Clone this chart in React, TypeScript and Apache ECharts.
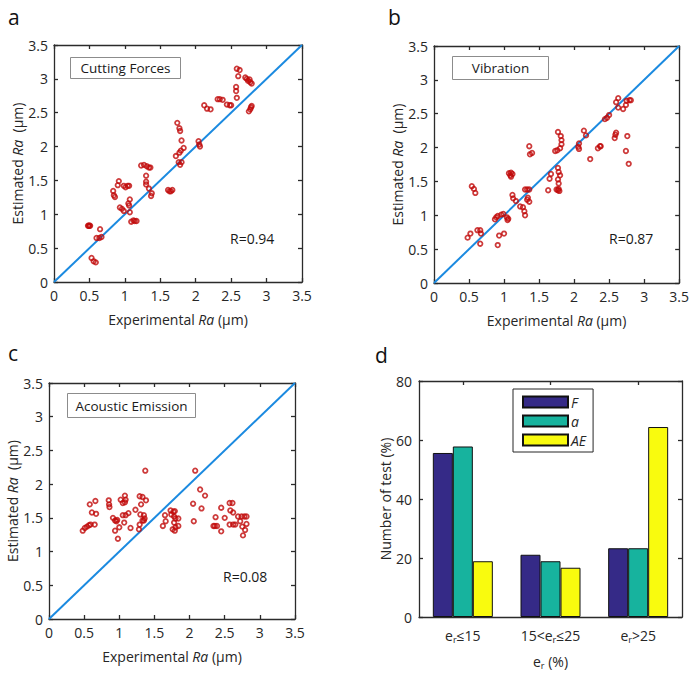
import React, { useEffect, useRef } from "react";
import * as echarts from "echarts";

// ---------- data ----------
const ticksRa = [0, 0.5, 1, 1.5, 2, 2.5, 3, 3.5];

const pointsForces: [number, number][] = [
  [0.48, 0.83], [0.49, 0.83], [0.5, 0.83], [0.51, 0.83],
  [0.53, 0.355], [0.56, 0.305], [0.59, 0.29],
  [0.65, 0.78], [0.6, 0.65], [0.64, 0.65], [0.67, 0.665],
  [0.835, 1.345], [0.845, 1.28], [0.86, 1.256],
  [0.915, 1.49], [0.9, 1.43],
  [0.93, 1.1], [0.96, 1.08], [0.985, 1.05],
  [0.985, 1.42], [1.01, 1.4], [1.04, 1.42], [1.06, 1.42],
  [1.07, 1.22], [1.05, 1.16], [1.06, 1.13], [1.07, 1.03],
  [1.09, 0.89], [1.12, 0.91], [1.14, 0.9], [1.165, 0.9],
  [1.23, 1.72], [1.27, 1.73], [1.31, 1.71], [1.34, 1.69], [1.36, 1.69],
  [1.3, 1.57], [1.3, 1.48], [1.3, 1.44],
  [1.34, 1.38], [1.38, 1.31], [1.37, 1.27],
  [1.61, 1.36], [1.63, 1.34], [1.65, 1.34], [1.67, 1.36],
  [1.74, 2.35], [1.77, 2.27], [1.78, 2.23], [1.8, 2.09],
  [1.72, 1.86], [1.77, 1.91], [1.79, 1.94], [1.83, 1.98],
  [1.76, 1.77], [1.78, 1.73], [1.8, 1.77],
  [2.04, 2.08], [2.05, 2.03], [2.06, 2.0],
  [2.12, 2.61], [2.16, 2.56], [2.21, 2.55],
  [2.31, 2.7], [2.34, 2.7], [2.38, 2.69],
  [2.44, 2.62], [2.48, 2.61], [2.5, 2.61],
  [2.58, 3.15], [2.62, 3.13], [2.6, 3.04],
  [2.57, 2.88], [2.57, 2.82], [2.58, 2.72],
  [2.7, 3.02], [2.72, 3.0], [2.74, 2.97], [2.76, 2.99], [2.77, 2.95], [2.79, 2.93],
  [2.75, 2.52], [2.77, 2.55], [2.78, 2.58], [2.79, 2.6],
];

const pointsVibration: [number, number][] = [
  [0.48, 0.67], [0.52, 0.73], [0.54, 1.43], [0.57, 1.39], [0.59, 1.33],
  [0.62, 0.78], [0.66, 0.78], [0.67, 0.73], [0.66, 0.58],
  [0.87, 0.94], [0.89, 0.97], [0.91, 0.99], [0.91, 0.56], [0.93, 0.7], [1.0, 0.73],
  [0.96, 1.01], [0.99, 1.02], [1.04, 0.97], [1.06, 0.95], [1.05, 0.93],
  [1.07, 1.62], [1.1, 1.63], [1.12, 1.61], [1.1, 1.57], [1.09, 1.59],
  [1.12, 1.3], [1.13, 1.25], [1.17, 1.21],
  [1.23, 1.13], [1.27, 1.12], [1.29, 1.06], [1.3, 1.0],
  [1.3, 1.38], [1.33, 1.38], [1.36, 1.38],
  [1.33, 1.23], [1.36, 1.2], [1.34, 1.26],
  [1.36, 2.02], [1.37, 1.9], [1.4, 1.92],
  [1.63, 1.37], [1.65, 1.54], [1.67, 1.61],
  [1.73, 1.95], [1.76, 1.96],
  [1.77, 2.23], [1.81, 2.17], [1.82, 2.11], [1.82, 2.05], [1.8, 1.99],
  [1.75, 1.38], [1.78, 1.39], [1.79, 1.36], [1.77, 1.37],
  [1.77, 1.7], [1.78, 1.64], [1.8, 1.59], [1.77, 1.53], [1.78, 1.47],
  [2.07, 2.06], [2.06, 2.01], [2.07, 1.98],
  [2.14, 2.25], [2.17, 2.18], [2.23, 1.83],
  [2.34, 1.99], [2.37, 2.02], [2.38, 2.02],
  [2.44, 2.42], [2.47, 2.44], [2.5, 2.48],
  [2.58, 2.14], [2.59, 2.19], [2.6, 2.22],
  [2.6, 2.67], [2.63, 2.73], [2.63, 2.59], [2.7, 2.57], [2.74, 2.63], [2.75, 2.69], [2.79, 2.7], [2.81, 2.7],
  [2.76, 2.17], [2.74, 1.95], [2.78, 1.76],
];

const pointsAcoustic: [number, number][] = [
  [0.48, 1.31], [0.51, 1.35], [0.54, 1.37], [0.57, 1.39], [0.59, 1.4],
  [0.58, 1.7], [0.61, 1.58], [0.67, 1.56], [0.66, 1.75], [0.65, 1.4],
  [0.85, 1.76], [0.855, 1.7], [0.86, 1.66],
  [0.91, 1.5], [0.94, 1.46], [0.96, 1.45], [0.97, 1.47],
  [0.94, 1.31], [0.98, 1.19], [1.0, 1.36],
  [1.02, 1.77], [1.05, 1.72], [1.08, 1.73], [1.08, 1.83], [1.09, 1.77],
  [1.05, 1.54], [1.09, 1.54], [1.13, 1.57], [1.07, 1.43], [1.16, 1.35],
  [1.23, 1.62], [1.29, 1.82], [1.33, 1.81], [1.38, 1.76], [1.37, 2.2], [1.31, 1.7],
  [1.3, 1.55], [1.35, 1.54], [1.36, 1.49], [1.35, 1.46], [1.33, 1.46],
  [1.29, 1.4], [1.28, 1.33],
  [1.62, 1.38], [1.66, 1.45], [1.65, 1.54],
  [1.73, 1.61], [1.77, 1.59], [1.78, 1.52], [1.8, 1.49], [1.84, 1.49], [1.78, 1.43],
  [1.8, 1.36], [1.76, 1.33], [1.79, 1.31], [1.84, 1.38], [1.74, 1.55], [1.79, 1.6],
  [2.08, 2.2], [2.05, 1.71], [2.06, 1.45],
  [2.15, 1.92], [2.22, 1.83], [2.17, 1.64],
  [2.34, 1.38], [2.36, 1.38], [2.39, 1.38],
  [2.37, 1.51], [2.45, 1.3], [2.45, 1.65], [2.5, 1.5],
  [2.57, 1.72], [2.61, 1.72], [2.58, 1.61], [2.62, 1.58],
  [2.57, 1.4], [2.62, 1.4], [2.65, 1.4],
  [2.69, 1.52], [2.74, 1.52], [2.78, 1.52], [2.81, 1.52],
  [2.72, 1.45], [2.75, 1.37], [2.79, 1.32], [2.76, 1.24], [2.81, 1.41],
];

const diagonal: [number, number][] = [[0, 0], [3.5, 3.5]];

const errorClasses = ["e_r≤15", "15<e_r≤25", "e_r>25"];
const pctForces = [55.6, 21.1, 23.3];
const pctVibration = [57.8, 18.9, 23.3];
const pctAcoustic = [18.9, 16.7, 64.4];
const pctTicks = [0, 20, 40, 60, 80];

// ---------- styles ----------
const FONT = "'Open Sans', 'Noto Sans', sans-serif";
const AXIS_COLOR = "#2b2b2b";
const TEXT_COLOR = "#262626";
const RED = "#c00a0a";
const BLUE = "#1b8ae0";
const FS = 14;

const grids = [
  { left: 54, top: 45, width: 248, height: 237 },
  { left: 434, top: 46, width: 246, height: 237 },
  { left: 49, top: 383, width: 246, height: 236 },
  { left: 419, top: 381, width: 263, height: 236 },
];

const lineStyle = { color: AXIS_COLOR, width: 1.3 };

const nameRich = {
  n: { fontFamily: FONT, fontSize: FS, color: TEXT_COLOR },
  i: { fontFamily: FONT, fontSize: FS, color: TEXT_COLOR, fontStyle: "italic" },
  s: { fontFamily: FONT, fontSize: 9, color: TEXT_COLOR, padding: [8, 0, 0, 0] },
};

function raAxes(g: number) {
  const base = {
    type: "value",
    gridIndex: g,
    min: ticksRa[0],
    max: ticksRa[ticksRa.length - 1],
    interval: 0.5,
    splitLine: { show: false },
    axisLine: { show: true, onZero: false, lineStyle },
    axisTick: { show: true, inside: true, length: 4, lineStyle },
  };
  const label = { show: true, fontFamily: FONT, fontSize: FS, color: TEXT_COLOR, margin: 6 };
  const x = [
    {
      ...base,
      position: "bottom",
      axisLabel: label,
      name: "{n|Experimental }{i|Ra}{n| (µm)}",
      nameLocation: "middle",
      nameGap: 30,
      nameTextStyle: { rich: nameRich },
    },
    { ...base, position: "top", axisLabel: { show: false } },
  ];
  const y = [
    {
      ...base,
      position: "left",
      axisLabel: label,
      name: "{n|Estimated }{i|Ra}{n|  (µm)}",
      nameLocation: "middle",
      nameGap: 27,
      nameTextStyle: { rich: nameRich },
    },
    { ...base, position: "right", axisLabel: { show: false } },
  ];
  return { x, y };
}

function fmtSub(v: string) {
  const parts = v.split("_r");
  return parts.map((p) => (p ? `{n|${p}}` : "")).join("{s|r}");
}

export default function App() {
  const ref = useRef<HTMLDivElement>(null);

  useEffect(() => {
    if (!ref.current) return;
    const chart = echarts.init(ref.current, undefined, { renderer: "svg" });

    const xAxes: any[] = [];
    const yAxes: any[] = [];
    for (let g = 0; g < 3; g++) {
      const a = raAxes(g);
      xAxes.push(...a.x);
      yAxes.push(...a.y);
    }
    const catBase = {
      type: "category",
      gridIndex: 3,
      data: errorClasses,
      axisLine: { show: true, onZero: false, lineStyle },
      axisTick: { show: true, inside: true, length: 4, alignWithLabel: true, lineStyle },
      splitLine: { show: false },
    };
    xAxes.push({
      ...catBase,
      position: "bottom",
      axisLabel: {
        interval: 0,
        fontFamily: FONT,
        fontSize: FS,
        color: TEXT_COLOR,
        margin: 10,
        formatter: (v: string) => fmtSub(v),
        rich: nameRich,
      },
      name: fmtSub("e_r (%)"),
      nameLocation: "middle",
      nameGap: 36,
      nameTextStyle: { rich: nameRich },
    });
    xAxes.push({ ...catBase, position: "top", axisLabel: { show: false } });
    const pctBase = {
      type: "value",
      gridIndex: 3,
      min: pctTicks[0],
      max: pctTicks[pctTicks.length - 1],
      interval: 20,
      splitLine: { show: false },
      axisLine: { show: true, onZero: false, lineStyle },
      axisTick: { show: true, inside: true, length: 4, lineStyle },
    };
    yAxes.push({
      ...pctBase,
      position: "left",
      axisLabel: { fontFamily: FONT, fontSize: FS, color: TEXT_COLOR, margin: 7 },
      name: "Number of test (%)",
      nameLocation: "middle",
      nameGap: 27,
      nameTextStyle: { fontFamily: FONT, fontSize: FS, color: TEXT_COLOR },
    });
    yAxes.push({ ...pctBase, position: "right", axisLabel: { show: false } });

    const scatterSets = [pointsForces, pointsVibration, pointsAcoustic];
    const series: any[] = [];
    scatterSets.forEach((pts, g) => {
      series.push({
        type: "line",
        xAxisIndex: 2 * g,
        yAxisIndex: 2 * g,
        data: diagonal,
        showSymbol: false,
        lineStyle: { color: BLUE, width: 2 },
        z: 2,
        silent: true,
      });
      series.push({
        type: "scatter",
        xAxisIndex: 2 * g,
        yAxisIndex: 2 * g,
        data: pts,
        symbol: "circle",
        symbolSize: 4.5,
        itemStyle: { color: "rgba(255,255,255,0)", borderColor: RED, borderWidth: 1.8 },
        z: 3,
      });
    });
    const barDefs = [
      { name: "F", data: pctForces, color: "#352a87" },
      { name: "a", data: pctVibration, color: "#17b39e" },
      { name: "AE", data: pctAcoustic, color: "#f9fb0e" },
    ];
    barDefs.forEach((b) => {
      series.push({
        type: "bar",
        name: b.name,
        xAxisIndex: 6,
        yAxisIndex: 6,
        data: b.data,
        barWidth: 20,
        barGap: "0%",
        itemStyle: { color: b.color, borderColor: "#111", borderWidth: 1 },
      });
    });

    const letter = (t: string, x: number, y: number) => ({
      type: "text",
      left: x,
      top: y,
      style: { text: t, fontFamily: FONT, fontSize: 21, fill: "#111" },
    });
    const boxed = (t: string, x: number, y: number, w: number, h: number) => ({
      type: "group",
      left: x,
      top: y,
      children: [
        {
          type: "rect",
          shape: { x: 0, y: 0, width: w, height: h },
          style: { fill: "#fff", stroke: "#8c8c8c", lineWidth: 1 },
        },
        {
          type: "text",
          x: w / 2,
          y: h / 2,
          style: {
            text: t,
            fontFamily: FONT,
            fontSize: 13.5,
            fill: "#1a1a1a",
            align: "center",
            verticalAlign: "middle",
          },
        },
      ],
    });
    const rText = (t: string, x: number, y: number) => ({
      type: "text",
      left: x,
      top: y,
      style: { text: t, fontFamily: FONT, fontSize: FS, fill: "#1a1a1a" },
    });

    chart.setOption({
      animation: false,
      backgroundColor: "#ffffff",
      grid: grids.map((g) => ({ ...g, containLabel: false })),
      xAxis: xAxes,
      yAxis: yAxes,
      legend: {
        data: ["F", "a", "AE"],
        orient: "vertical",
        left: 513,
        top: 389,
        icon: "rect",
        itemWidth: 45,
        itemHeight: 11,
        itemGap: 5,
        padding: [6, 7, 5, 9],
        borderColor: "#262626",
        borderWidth: 1,
        backgroundColor: "#fff",
        textStyle: {
          fontFamily: FONT,
          fontSize: FS,
          fontStyle: "italic",
          color: TEXT_COLOR,
          lineHeight: 12,
          padding: [0, 0, 0, -2],
        },
        selectedMode: false,
      },
      graphic: [
        letter("a", 8, 6),
        letter("b", 388, 6),
        letter("c", 8, 342),
        letter("d", 375, 344),
        boxed("Cutting Forces", 70, 57, 110, 21),
        boxed("Vibration", 452, 56, 96, 23),
        boxed("Acoustic Emission", 67, 393, 128, 24),
        rText("R=0.94", 230, 231),
        rText("R=0.87", 609, 231),
        rText("R=0.08", 223, 569),
      ],
      series,
    });

    return () => chart.dispose();
  }, []);

  return (
    <div
      ref={ref}
      style={{ position: "absolute", left: 0, top: 0, width: 692, height: 680 }}
    />
  );
}
